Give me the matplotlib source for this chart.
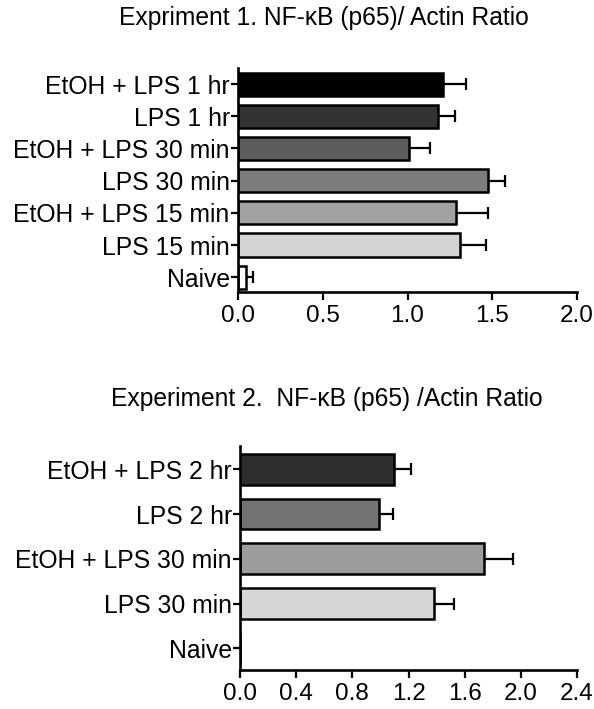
import matplotlib
matplotlib.use("Agg")
import matplotlib.pyplot as plt

plt.rcParams["font.family"] = ["Liberation Sans", "DejaVu Sans"]

# Experiment 1 (listed bottom to top)
exp1_labels = ["Naive", "LPS 15 min", "EtOH + LPS 15 min", "LPS 30 min",
               "EtOH + LPS 30 min", "LPS 1 hr", "EtOH + LPS 1 hr"]
exp1_values = [0.047, 1.31, 1.286, 1.477, 1.007, 1.182, 1.209]
exp1_errors = [0.041, 0.153, 0.187, 0.096, 0.123, 0.096, 0.136]
exp1_colors = ["#ffffff", "#d4d4d4", "#a2a2a2", "#7c7c7c", "#5c5c5c", "#333333", "#000000"]

# Experiment 2 (listed bottom to top)
exp2_labels = ["Naive", "LPS 30 min", "EtOH + LPS 30 min", "LPS 2 hr", "EtOH + LPS 2 hr"]
exp2_values = [0.0, 1.38, 1.737, 0.993, 1.10]
exp2_errors = [0.0, 0.146, 0.207, 0.095, 0.119]
exp2_colors = ["#ffffff", "#d6d6d6", "#9c9c9c", "#727272", "#2e2e2e"]


def _panel(ax, labels, values, errors, colors, height, xmax, xticks, ylim):
    pos = list(range(len(labels)))
    ax.barh(pos, values, height=height, color=colors, edgecolor="black", linewidth=1.8, zorder=2)
    for p, v, e in zip(pos, values, errors):
        if e > 0:
            ax.errorbar(v, p, xerr=[[0], [e]], fmt="none", ecolor="black",
                        elinewidth=1.6, capsize=4, capthick=1.6, zorder=1)
    ax.set_yticks(pos)
    ax.set_yticklabels(labels)
    ax.set_xticks(xticks)
    ax.set_xticklabels([f"{t:.1f}" for t in xticks])
    ax.set_xlim(0, xmax)
    ax.set_ylim(*ylim)
    for side in ["top", "right"]:
        ax.spines[side].set_visible(False)
    for side in ["left", "bottom"]:
        ax.spines[side].set_linewidth(1.9)
    ax.tick_params(axis="y", length=5, width=1.6, labelsize=17.8, pad=1)
    ax.tick_params(axis="x", length=6, width=1.6, labelsize=17.5, pad=3)


fig = plt.figure(figsize=(5.94, 7.09), dpi=100)

ax1 = fig.add_axes([238 / 594, 1 - 292 / 709, 339 / 594, 224 / 709])
_panel(ax1, exp1_labels, exp1_values, exp1_errors, exp1_colors,
       0.72, 2.0, [0.0, 0.5, 1.0, 1.5, 2.0], (-0.46, 6.5))

ax2 = fig.add_axes([240 / 594, 1 - 670 / 709, 337 / 594, 224 / 709])
_panel(ax2, exp2_labels, exp2_values, exp2_errors, exp2_colors,
       0.69, 2.4, [0.0, 0.4, 0.8, 1.2, 1.6, 2.0, 2.4], (-0.485, 4.52))

fig.text(323.5 / 594, 1 - 25 / 709, "Expriment 1. NF-\u03baB (p65)/ Actin Ratio",
         ha="center", va="baseline", fontsize=17.7)
fig.text(326.5 / 594, 1 - 406 / 709, "Experiment 2.  NF-\u03baB (p65) /Actin Ratio",
         ha="center", va="baseline", fontsize=17.7)

fig.savefig("out.png", dpi=100)
